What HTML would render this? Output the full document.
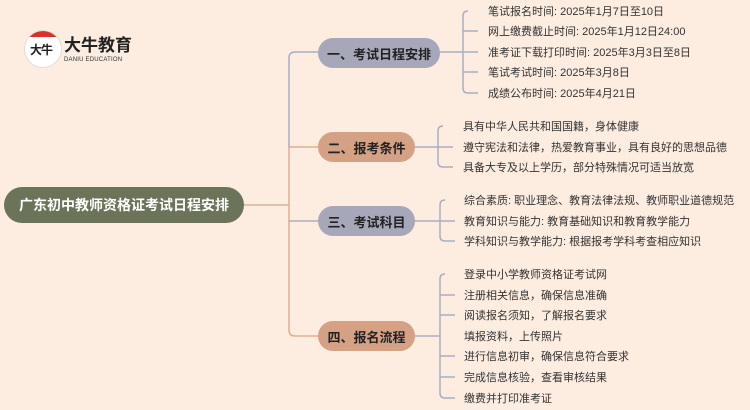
<!DOCTYPE html>
<html><head><meta charset="utf-8"><style>
body{margin:0;width:750px;height:410px;background:#fdece0;position:relative;overflow:hidden;font-family:"Liberation Sans","Noto Sans CJK SC",sans-serif}
.t{position:absolute;font-size:11px;color:#333;white-space:nowrap;line-height:14px}
.n{position:absolute;height:30px;border-radius:15px;font-weight:bold;font-size:13px;color:#222;display:flex;align-items:center;justify-content:center}
</style></head><body>
<svg width="750" height="410" style="position:absolute;left:0;top:0" fill="none" stroke-width="1.5">
<g stroke="#e0ae92">
<path d="M244 205H289"/>
<path d="M289 147V330Q289 336 295 336H318"/>
<path d="M289 147H318"/>
</g>
<g stroke="#aaaec4">
<path d="M289 147V58Q289 52 295 52H318"/>
<path d="M289 221H318"/>
<path d="M440 52H463"/>
<path d="M468 11Q463 11 463 16V88Q463 93 468 93H478"/>
<path d="M463 31H478M463 52H478M463 72H478"/>
<path d="M415 147H438"/>
<path d="M443 126Q438 126 438 131V162Q438 167 443 167H453M438 147H453"/>
<path d="M415 221H440"/>
<path d="M445 200Q440 200 440 205V236Q440 241 445 241H455M440 221H455"/>
<path d="M415 336H440"/>
<path d="M445 274Q440 274 440 279V393Q440 398 445 398H455"/>
<path d="M440 295H455M440 315H455M440 356H455M440 377H455"/>
</g>
</svg>
<div style="position:absolute;left:24px;top:30px;width:36px;height:36px;border-radius:50%;background:#fff;border:1px solid #ddd;overflow:hidden"><div style="height:6px;background:#d9302c"></div><div style="font-size:12px;font-weight:bold;color:#222;margin-top:4px;margin-left:5px;letter-spacing:-1px">大牛</div></div>
<div style="position:absolute;left:64px;top:36px;font-size:17px;font-weight:bold;color:#222;line-height:20px">大牛教育</div>
<div style="position:absolute;left:64px;top:57px;font-size:6px;color:#333;letter-spacing:0.2px">DANIU EDUCATION</div>
<div class="n" style="left:4px;top:187px;width:240px;height:36px;border-radius:18px;background:#6b7459;color:#fff;font-size:14px">广东初中教师资格证考试日程安排</div>
<div class="n" style="left:318px;top:38px;width:122px;background:#a6a7b9">一、考试日程安排</div>
<div class="n" style="left:318px;top:132px;width:97px;background:#d4a184">二、报考条件</div>
<div class="n" style="left:318px;top:206px;width:97px;background:#a6a7b9">三、考试科目</div>
<div class="n" style="left:318px;top:321px;width:97px;background:#d4a184">四、报名流程</div>
<div class="t" style="left:488px;top:5px">笔试报名时间: 2025年1月7日至10日</div>
<div class="t" style="left:488px;top:25px">网上缴费截止时间: 2025年1月12日24:00</div>
<div class="t" style="left:488px;top:46px">准考证下载打印时间: 2025年3月3日至8日</div>
<div class="t" style="left:488px;top:66px">笔试考试时间: 2025年3月8日</div>
<div class="t" style="left:488px;top:87px">成绩公布时间: 2025年4月21日</div>
<div class="t" style="left:463px;top:120px">具有中华人民共和国国籍，身体健康</div>
<div class="t" style="left:463px;top:141px">遵守宪法和法律，热爱教育事业，具有良好的思想品德</div>
<div class="t" style="left:463px;top:161px">具备大专及以上学历，部分特殊情况可适当放宽</div>
<div class="t" style="left:464px;top:194px">综合素质: 职业理念、教育法律法规、教师职业道德规范</div>
<div class="t" style="left:464px;top:215px">教育知识与能力: 教育基础知识和教育教学能力</div>
<div class="t" style="left:464px;top:235px">学科知识与教学能力: 根据报考学科考查相应知识</div>
<div class="t" style="left:464px;top:268px">登录中小学教师资格证考试网</div>
<div class="t" style="left:464px;top:289px">注册相关信息，确保信息准确</div>
<div class="t" style="left:464px;top:309px">阅读报名须知，了解报名要求</div>
<div class="t" style="left:464px;top:330px">填报资料，上传照片</div>
<div class="t" style="left:464px;top:350px">进行信息初审，确保信息符合要求</div>
<div class="t" style="left:464px;top:371px">完成信息核验，查看审核结果</div>
<div class="t" style="left:464px;top:392px">缴费并打印准考证</div>
</body></html>
